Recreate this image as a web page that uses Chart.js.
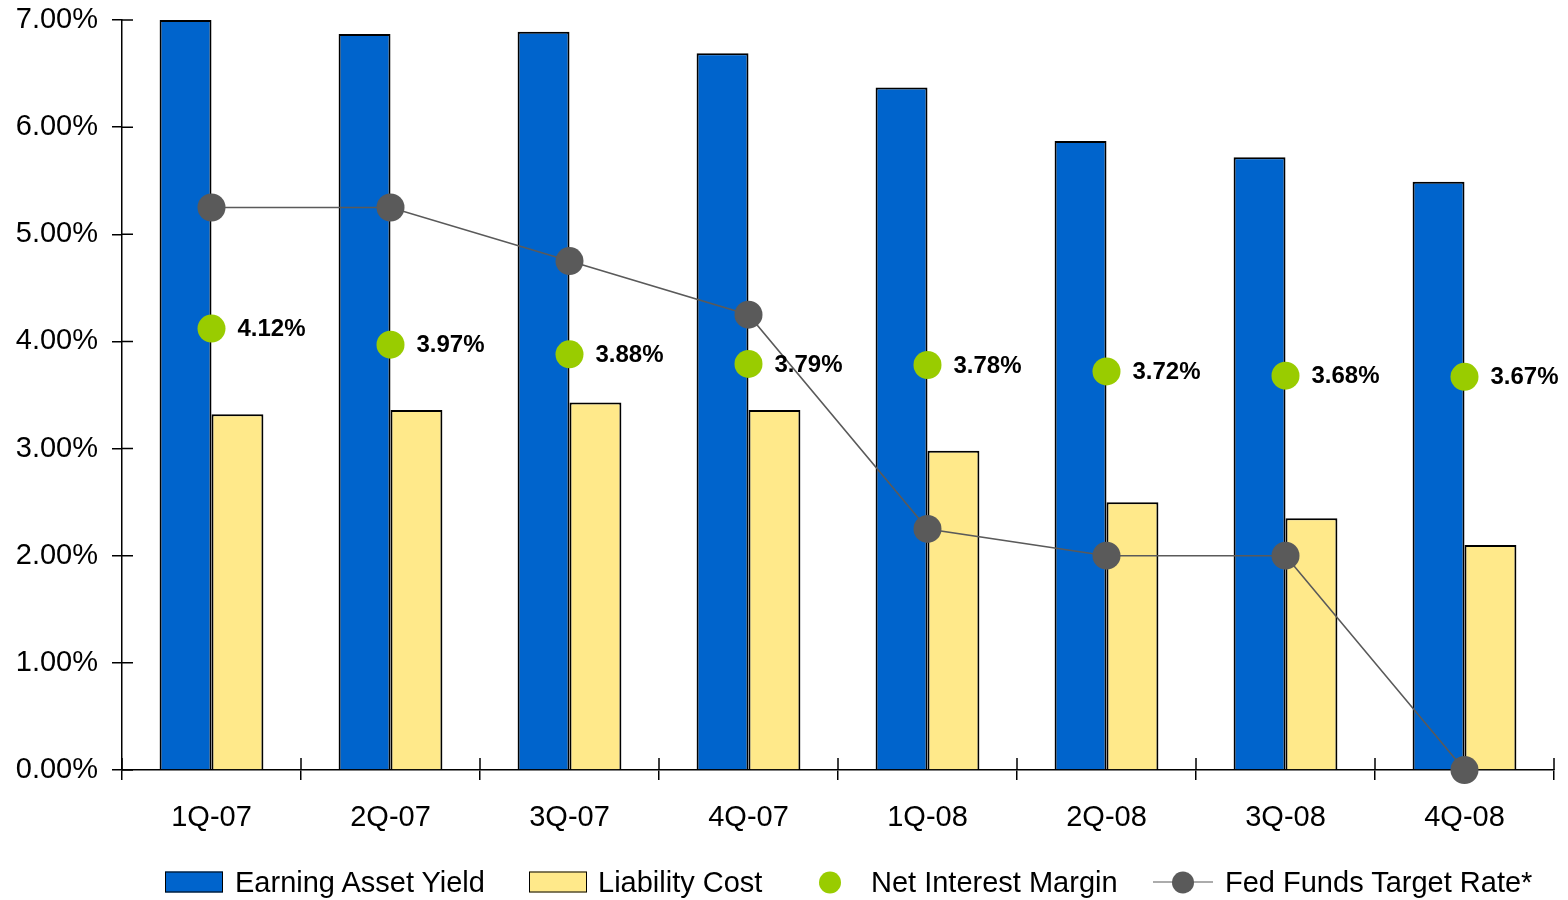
<!DOCTYPE html>
<html>
<head>
<meta charset="utf-8">
<script src="https://cdn.jsdelivr.net/npm/chart.js@4/dist/chart.umd.min.js"></script>
<style>
  html, body { margin: 0; padding: 0; background: #fff; }
  #wrap { position: relative; width: 1568px; height: 900px; font-family: "Liberation Sans", Arial, Helvetica, sans-serif; }
  #chart { position: absolute; left: 0; top: 0; }
  .leg { position: absolute; top: 882px; transform: translateY(-50%); display: flex; align-items: center; font-size: 29px; color: #000; white-space: nowrap; }
  .sw-box { width: 56px; height: 19px; border: 1.5px solid #000; }
  .sw-dot { width: 22px; height: 22px; border-radius: 50%; }
  .sw-line { position: relative; width: 60px; height: 22px; }
  .sw-line::before { content: ""; position: absolute; left: 0; right: 0; top: 10px; height: 1.5px; background: #5a5a5a; }
  .sw-line span { position: absolute; left: 19px; top: 0; width: 22px; height: 22px; border-radius: 50%; background: #5a5a5a; }
</style>
</head>
<body>
<div id="wrap">
  <canvas id="chart" width="1568" height="900"></canvas>
  <div id="legend"></div>
</div>
<script>
// Quarterly rate data (percent)
const categories = ['1Q-07', '2Q-07', '3Q-07', '4Q-07', '1Q-08', '2Q-08', '3Q-08', '4Q-08'];
const earningAssetYield = [7.00, 6.87, 6.89, 6.69, 6.37, 5.87, 5.72, 5.49];
const liabilityCost = [3.32, 3.36, 3.43, 3.36, 2.98, 2.50, 2.35, 2.10];
const netInterestMargin = [4.12, 3.97, 3.88, 3.79, 3.78, 3.72, 3.68, 3.67];
const fedFundsTargetRate = [5.25, 5.25, 4.75, 4.25, 2.25, 2.00, 2.00, 0.00];
const yTickValues = [0, 1, 2, 3, 4, 5, 6, 7];

const seriesNames = ['Earning Asset Yield', 'Liability Cost', 'Net Interest Margin', 'Fed Funds Target Rate*'];
const FONT = '"Liberation Sans", Arial, Helvetica, sans-serif';
const BLUE = '#0064CC', YELLOW = '#FFE98A', GREEN = '#99CC00', GREY = '#5A5A5A';

const fmtPct = v => v.toFixed(2) + '%';

// Tick marks that cross the axis lines into the plot area
const innerTicks = {
  id: 'innerTicks',
  afterDraw(chart) {
    const { ctx, chartArea, scales } = chart;
    ctx.save();
    ctx.strokeStyle = '#000';
    ctx.lineWidth = 1.5;
    ctx.beginPath();
    yTickValues.forEach(v => {
      const y = scales.y.getPixelForValue(v);
      ctx.moveTo(chartArea.left, y);
      ctx.lineTo(chartArea.left + 11, y);
    });
    for (let i = 0; i <= categories.length; i++) {
      const x = scales.x.getPixelForValue(i - 0.5);
      ctx.moveTo(x, chartArea.bottom);
      ctx.lineTo(x, chartArea.bottom - 12);
    }
    ctx.stroke();
    ctx.restore();
  }
};

// Value labels beside the net interest margin points
const marginLabels = {
  id: 'marginLabels',
  afterDatasetsDraw(chart) {
    const idx = chart.data.datasets.findIndex(d => d.label === seriesNames[2]);
    const meta = chart.getDatasetMeta(idx);
    const { ctx } = chart;
    ctx.save();
    ctx.font = 'bold 24px ' + FONT;
    ctx.fillStyle = '#000';
    ctx.textAlign = 'left';
    ctx.textBaseline = 'middle';
    meta.data.forEach((pt, i) => {
      ctx.fillText(fmtPct(chart.data.datasets[idx].data[i]), pt.x + 26, pt.y + 1);
    });
    ctx.restore();
  }
};

const chart = new Chart(document.getElementById('chart'), {
  data: {
    labels: categories,
    datasets: [
      {
        type: 'bar', label: seriesNames[0], data: earningAssetYield, order: 2,
        backgroundColor: BLUE, borderColor: '#000', borderWidth: 2,
        categoryPercentage: 0.58, barPercentage: 1.0
      },
      {
        type: 'bar', label: seriesNames[1], data: liabilityCost, order: 2,
        backgroundColor: YELLOW, borderColor: '#000', borderWidth: 2,
        categoryPercentage: 0.58, barPercentage: 1.0
      },
      {
        type: 'line', label: seriesNames[2], data: netInterestMargin, order: 1,
        showLine: false, pointRadius: 14, pointHoverRadius: 14, clip: false,
        pointBackgroundColor: GREEN, pointBorderWidth: 0, borderColor: GREEN
      },
      {
        type: 'line', label: seriesNames[3], data: fedFundsTargetRate, order: 0,
        borderColor: GREY, borderWidth: 1.6, tension: 0, clip: false,
        pointRadius: 14, pointHoverRadius: 14,
        pointBackgroundColor: GREY, pointBorderWidth: 0
      }
    ]
  },
  options: {
    responsive: false,
    animation: false,
    maintainAspectRatio: false,
    layout: { padding: { top: 20, right: 13, left: 0, bottom: 0 } },
    plugins: { legend: { display: false }, tooltip: { enabled: false } },
    scales: {
      x: {
        type: 'category',
        offset: true,
        grid: { offset: true, drawOnChartArea: false, color: '#000', lineWidth: 1.5, tickLength: 10 },
        border: { color: '#000', width: 1.5 },
        ticks: { color: '#000', font: { family: FONT, size: 29 }, padding: 21, maxRotation: 0 },
        afterFit: s => { s.height = 130; s.paddingLeft = 0; s.paddingRight = 0; }
      },
      y: {
        min: 0, max: 7,
        afterBuildTicks: s => { s.ticks = yTickValues.map(v => ({ value: v })); },
        grid: { drawOnChartArea: false, color: '#000', lineWidth: 1.5, tickLength: 10 },
        border: { color: '#000', width: 1.5 },
        ticks: { color: '#000', font: { family: FONT, size: 29 }, padding: 14, callback: v => fmtPct(v) },
        afterFit: s => { s.width = 122; s.paddingTop = 0; s.paddingBottom = 0; }
      }
    }
  },
  plugins: [innerTicks, marginLabels]
});

// Legend built from the chart's own series
const legend = document.getElementById('legend');
const legendSpec = [
  { left: 165, swatch: '<div class="sw-box" style="background:' + BLUE + '"></div>', gap: 12 },
  { left: 529, swatch: '<div class="sw-box" style="background:' + YELLOW + '"></div>', gap: 11 },
  { left: 819, swatch: '<div class="sw-dot" style="background:' + GREEN + '"></div>', gap: 30 },
  { left: 1153, swatch: '<div class="sw-line"><span></span></div>', gap: 12 }
];
chart.data.datasets.forEach((ds, i) => {
  const s = legendSpec[i];
  const item = document.createElement('div');
  item.className = 'leg';
  item.style.left = s.left + 'px';
  item.innerHTML = s.swatch + '<span style="margin-left:' + s.gap + 'px">' + ds.label + '</span>';
  legend.appendChild(item);
});
</script>
</body>
</html>
